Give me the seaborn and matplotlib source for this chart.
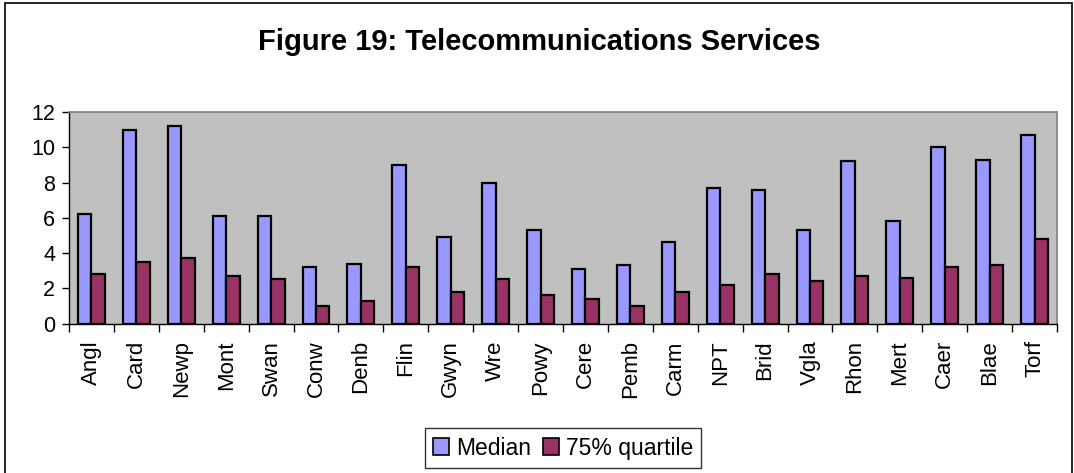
import pandas as pd
import numpy as np
import matplotlib
matplotlib.use("Agg")
import matplotlib.pyplot as plt
from matplotlib.patches import Rectangle
from matplotlib.ticker import MultipleLocator
import seaborn as sns

# === Data ===
areas = ["Angl", "Card", "Newp", "Mont", "Swan", "Conw", "Denb", "Flin", "Gwyn", "Wre", "Powy",
         "Cere", "Pemb", "Carm", "NPT", "Brid", "Vgla", "Rhon", "Mert", "Caer", "Blae", "Torf"]
median = [6.2, 11.0, 11.2, 6.1, 6.1, 3.2, 3.4, 9.0, 4.9, 8.0, 5.3,
          3.1, 3.3, 4.6, 7.7, 7.6, 5.3, 9.2, 5.8, 10.0, 9.3, 10.7]
quartile75 = [2.8, 3.5, 3.7, 2.7, 2.5, 1.0, 1.3, 3.2, 1.8, 2.5, 1.6,
              1.4, 1.0, 1.8, 2.2, 2.8, 2.4, 2.7, 2.6, 3.2, 3.3, 4.8]
series_names = ["Median", "75% quartile"]
colours = ["#9999FF", "#993366"]

df = pd.DataFrame({"area": areas * 2,
                   "value": median + quartile75,
                   "series": [series_names[0]] * len(areas) + [series_names[1]] * len(areas)})

plt.rcParams["font.family"] = ["Liberation Sans", "DejaVu Sans"]

fig = plt.figure(figsize=(10.74, 4.73), dpi=100)
ax = fig.add_axes([69 / 1074, 1 - 323.5 / 473, (1057 - 69) / 1074, (323.5 - 112) / 473])

sns.barplot(data=df, x="area", y="value", hue="series", palette=colours, width=0.6,
            edgecolor="black", linewidth=1.6, saturation=1, ax=ax, legend=False)

ax.set_facecolor("#C0C0C0")
ax.set_ylim(0, 12)
ax.set_xlim(-0.5, len(areas) - 0.5)
ax.yaxis.set_major_locator(MultipleLocator(2))
ax.set_xlabel("")
ax.set_ylabel("")

# category boundary ticks like the original
ax.set_xticks(np.arange(len(areas)))
ax.set_xticklabels(areas, rotation=90, fontsize=16)
ax.set_xticks(np.arange(len(areas) + 1) - 0.5, minor=True)
ax.tick_params(axis="x", which="major", length=0, pad=12)
ax.tick_params(axis="x", which="minor", length=6, width=1, color="black")
ax.tick_params(axis="y", length=5, width=1, labelsize=15.5, pad=5)

for side in ["top", "right"]:
    ax.spines[side].set_color("#808080")
    ax.spines[side].set_linewidth(1.2)
for side in ["left", "bottom"]:
    ax.spines[side].set_color("black")
    ax.spines[side].set_linewidth(1)

# === Title ===
fig.text(0.502, 1 - 42 / 473, "Figure 19: Telecommunications Services",
         ha="center", va="center", fontsize=21, fontweight="bold")

# === Legend ===
handles = [Rectangle((0, 0), 1, 1, facecolor=c, edgecolor="black", linewidth=1.2) for c in colours]
leg = fig.legend(handles, series_names, loc="center", bbox_to_anchor=(563 / 1074, 1 - 448 / 473),
                 ncol=2, fontsize=16.5, frameon=True, fancybox=False, edgecolor="black",
                 handlelength=0.7, handleheight=0.7, handletextpad=0.3, columnspacing=0.5,
                 borderpad=0.35, borderaxespad=0)
leg.get_frame().set_linewidth(1)

# outer chart border
fig.patches.append(Rectangle((5 / 1074, -0.01), (1072 - 5) / 1074, 1.01 - 3 / 473,
                             transform=fig.transFigure, fill=False, edgecolor="black", linewidth=1.2))

fig.savefig("out.png", dpi=100)
